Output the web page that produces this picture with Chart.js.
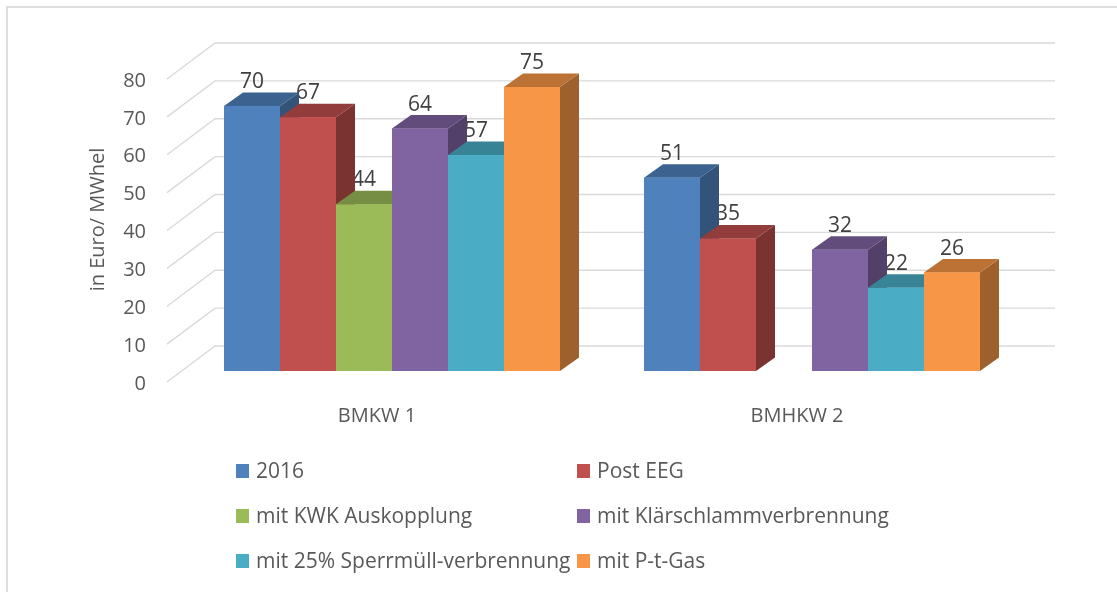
<!DOCTYPE html>
<html>
<head>
<meta charset="utf-8">
<script src="https://cdn.jsdelivr.net/npm/chart.js@4.4.1/dist/chart.umd.min.js"></script>
<style>
  html, body { margin: 0; padding: 0; background: #fff; }
  #wrap { position: relative; width: 1117px; height: 592px; overflow: hidden; background: #fff; }
  #frame { position: absolute; left: 6px; top: 6px; right: -10px; bottom: -10px;
           border-left: 2px solid #dedede; border-top: 2px solid #dedede; }
  canvas { position: absolute; left: 0; top: 0; }
  #legend { position: absolute; left: 236px; top: 448px; display: grid;
            grid-template-columns: 341px 341px; grid-auto-rows: 45px; align-items: center;
            font-family: 'Open Sans', sans-serif; font-size: 21px; color: #595959; }
  .item { display: flex; align-items: center; white-space: nowrap; line-height: 1; }
  .box { width: 13px; height: 14px; margin-right: 7px; flex: none; }
</style>
</head>
<body>
<div id="wrap">
  <div id="frame"></div>
  <canvas id="c" width="1117" height="592"></canvas>
  <div id="legend"></div>
</div>
<script>
// ---- data ----
const categories = ['BMKW 1', 'BMHKW 2'];
const seriesNames = ['2016', 'Post EEG', 'mit KWK Auskopplung', 'mit Klärschlammverbrennung',
                     'mit 25% Sperrmüll-verbrennung', 'mit P-t-Gas'];
const values2016 = [70, 51];
const valuesPostEEG = [67, 35];
const valuesKWK = [44, null];
const valuesKlaer = [64, 32];
const valuesSperr = [57, 22];
const valuesPtGas = [75, 26];
const seriesColors = ['#4F81BD', '#C0504D', '#9BBB59', '#8064A2', '#4BACC6', '#F79646'];
const yMin = 0, yMax = 80, yStep = 10;
const yAxisTitle = 'in Euro/ MWhel';

const seriesValues = [values2016, valuesPostEEG, valuesKWK, valuesKlaer, valuesSperr, valuesPtGas];

// ---- 3D geometry (pixels) ----
const DEPTH_X = 19, DEPTH_Y = -13.5;      // bar depth
const BACK_X = 33, BACK_Y = -25;          // back wall offset
const FRONT_X = -15, FRONT_Y = 11;        // front edge of side wall

function shade(hex, f) {
  const n = parseInt(hex.slice(1), 16);
  const r = Math.round(((n >> 16) & 255) * f), g = Math.round(((n >> 8) & 255) * f), b = Math.round((n & 255) * f);
  return `rgb(${r},${g},${b})`;
}

const threeD = {
  id: 'threeD',
  beforeDatasetsDraw(chart) {
    const ctx = chart.ctx, ys = chart.scales.y, area = chart.chartArea;
    ctx.save();
    ctx.strokeStyle = '#d9d9d9';
    ctx.lineWidth = 1.4;
    ys.ticks.forEach(t => {
      const py = ys.getPixelForValue(t.value);
      ctx.beginPath();
      ctx.moveTo(area.left + FRONT_X, py + FRONT_Y);
      ctx.lineTo(area.left + BACK_X, py + BACK_Y);
      ctx.lineTo(area.right + BACK_X, py + BACK_Y);
      ctx.stroke();
    });
    // data labels (drawn before bars so neighbouring 3D faces may overlap them)
    ctx.fillStyle = '#404040';
    ctx.font = "21px 'Open Sans', sans-serif";
    ctx.textAlign = 'center';
    ctx.textBaseline = 'middle';
    chart.data.datasets.forEach((ds, i) => {
      chart.getDatasetMeta(i).data.forEach((bar, j) => {
        if (ds.data[j] == null) return;
        ctx.fillText(String(ds.data[j]), bar.x, bar.y - 24);
      });
    });
    ctx.restore();
  },
  afterDatasetsDraw(chart) {
    const ctx = chart.ctx;
    ctx.save();
    chart.data.datasets.forEach((ds, i) => {
      const meta = chart.getDatasetMeta(i);
      const col = ds.backgroundColor;
      meta.data.forEach((bar, j) => {
        if (ds.data[j] == null) return;
        const { x, y, base, width } = bar.getProps(['x', 'y', 'base', 'width'], true);
        const l = x - width / 2, r = x + width / 2;
        // side face
        ctx.fillStyle = shade(col, 0.64);
        ctx.beginPath();
        ctx.moveTo(r, y); ctx.lineTo(r + DEPTH_X, y + DEPTH_Y);
        ctx.lineTo(r + DEPTH_X, base + DEPTH_Y); ctx.lineTo(r, base);
        ctx.closePath(); ctx.fill();
        // top face
        ctx.fillStyle = shade(col, 0.76);
        ctx.beginPath();
        ctx.moveTo(l, y); ctx.lineTo(l + DEPTH_X, y + DEPTH_Y);
        ctx.lineTo(r + DEPTH_X, y + DEPTH_Y); ctx.lineTo(r, y);
        ctx.closePath(); ctx.fill();
        // front face (library element)
        bar.draw(ctx);
      });
    });
    ctx.restore();
  }
};

Chart.defaults.font.family = "'Open Sans', sans-serif";
Chart.defaults.font.size = 20;
Chart.defaults.color = '#595959';

const chart = new Chart(document.getElementById('c'), {
  type: 'bar',
  data: {
    labels: categories,
    datasets: seriesNames.map((name, i) => ({
      label: name,
      data: seriesValues[i],
      backgroundColor: seriesColors[i],
      borderWidth: 0,
      categoryPercentage: 0.8,
      barPercentage: 1.0
    }))
  },
  options: {
    responsive: false,
    animation: false,
    devicePixelRatio: 1,
    layout: { padding: { top: 68, right: 95, left: 0, bottom: 0 } },
    plugins: { legend: { display: false }, tooltip: { enabled: false } },
    scales: {
      x: {
        grid: { display: false, drawTicks: false },
        border: { display: false },
        ticks: { padding: 33, labelOffset: -15, color: '#595959', font: { size: 20 } },
        afterFit(s) { s.height = 592 - 371; }
      },
      y: {
        min: yMin, max: yMax,
        grid: { display: false, drawTicks: false },
        border: { display: false },
        ticks: { stepSize: yStep, padding: 36, labelOffset: 13, color: '#595959', font: { size: 20 } },
        title: { display: true, text: yAxisTitle, color: '#595959', font: { size: 20 }, padding: { top: 86, bottom: 0 } },
        afterFit(s) { s.width = 182; }
      }
    }
  },
  plugins: [threeD]
});

// HTML legend built from the chart's datasets
const leg = document.getElementById('legend');
chart.data.datasets.forEach(ds => {
  const it = document.createElement('div');
  it.className = 'item';
  const b = document.createElement('span');
  b.className = 'box';
  b.style.background = ds.backgroundColor;
  const t = document.createElement('span');
  t.textContent = ds.label;
  it.appendChild(b); it.appendChild(t);
  leg.appendChild(it);
});
</script>
</body>
</html>
